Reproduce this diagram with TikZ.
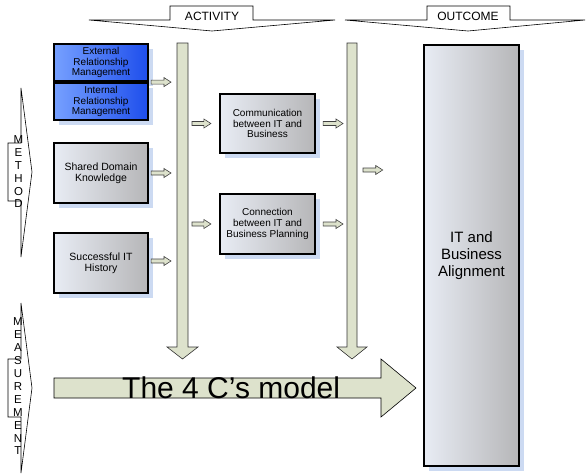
\documentclass[tikz,border=0pt]{standalone}
\usepackage{fontspec}
\setmainfont{Liberation Sans}
\usepackage{tikz}
\usetikzlibrary{positioning,shadows,calc}

\definecolor{barfill}{RGB}{221,226,204}
\definecolor{shadowblue}{RGB}{204,218,242}
\definecolor{boxlight}{RGB}{232,236,244}
\definecolor{boxdark}{RGB}{182,182,184}
\definecolor{bluelight}{RGB}{118,160,255}
\definecolor{bluedark}{RGB}{30,78,236}

% small hollow arrow between two points
\newcommand{\blockarrow}[2]{%
  \path #1 coordinate (ba-s) #2 coordinate (ba-e);
  \draw[smallarrow] let \p1=(ba-s), \p2=(ba-e) in
    (\x1,\y1-2pt) -- (\x2-7pt,\y1-2pt) -- (\x2-7pt,\y1-4.5pt) -- (\x2,\y1)
    -- (\x2-7pt,\y1+4.5pt) -- (\x2-7pt,\y1+2pt) -- (\x1,\y1+2pt) -- cycle;
}

\begin{document}
\begin{tikzpicture}[x=1pt,y=-1pt,
  box/.style={draw, line width=2.2pt, align=center, minimum width=94pt, minimum height=60pt,
    left color=boxlight, right color=boxdark,
    drop shadow={shadow xshift=5pt, shadow yshift=-5pt, fill=shadowblue, opacity=1},
    font=\fontsize{10.5}{11}\selectfont},
  bluebox/.style={box, minimum height=35pt, left color=bluelight, right color=bluedark,
    font=\fontsize{10}{10.5}\selectfont},
  bar/.style={draw=black!80, line width=0.6pt, fill=barfill},
  smallarrow/.style={draw=black!75, line width=0.6pt, fill=barfill},
  banner/.style={draw, line width=0.6pt, fill=white},
  vletter/.style={inner sep=0pt, font=\fontsize{11.5}{11.5}\selectfont}]
\useasboundingbox (0,0) rectangle (586,474);

% banners on top
\draw[banner] (89,20) -- (170,20) -- (170,6) -- (253,6) -- (253,20) -- (335,20) -- (212,31) -- cycle;
\node[font=\fontsize{12}{12}\selectfont] (activity) at (212,16) {ACTIVITY};
\draw[banner] (345,20) -- (427,20) -- (427,6) -- (510,6) -- (510,20) -- (585,20) -- (468,31) -- cycle;
\node[font=\fontsize{12}{12}\selectfont] (outcome) at (468,16) {OUTCOME};

% banners on the left
\draw[banner] (21,88) -- (21,143) -- (8,143) -- (8,201) -- (21,201) -- (21,257) -- (32,172) -- cycle;
\foreach \l [count=\i from 0] in {M,E,T,H,O,D}
  \node[vletter] (meth\i) at (18.5,140+12.8*\i) {\l};
\draw[banner] (21,303) -- (21,359) -- (8,359) -- (8,417) -- (21,417) -- (21,473) -- (32,388) -- cycle;
\foreach \l [count=\i from 0] in {M,E,A,S,U,R,E,M,E,N,T}
  \node[vletter] (meas\i) at (18,322+12.9*\i) {\l};

% activity bar
\draw[bar] (177,43) -- (188,43) -- (188,347) -- (198,347) -- (182.5,359) -- (167,347) -- (177,347) -- cycle;
\coordinate (barA) at (177,0);
\coordinate (barAr) at (188,0);

% outcome bar
\draw[bar] (347,43) -- (357,43) -- (357,347) -- (367,347) -- (352,359) -- (337,347) -- (347,347) -- cycle;
\coordinate (barB) at (347,0);
\coordinate (barBr) at (357,0);

% the 4 C's arrow
\draw[bar, draw=black] (54,378) -- (381,378) -- (381,359) -- (416,388) -- (381,417) -- (381,398) -- (54,398) -- cycle;
\node[anchor=base west, inner sep=0pt, font=\fontsize{30}{30}\selectfont] (model) at (122,398) {The 4 C’s model};

% method boxes
\node[bluebox] (ext) at (101,62.5) {External\\Relationship\\Management};
\node[bluebox, below=0pt of ext] (int) {Internal\\Relationship\\Management};
\node[box] (shared) at (101,173) {Shared Domain\\Knowledge};
\node[box] (success) at (101,263) {Successful IT\\History};

% activity boxes
\node[box, minimum width=95pt, minimum height=59pt, font=\fontsize{10}{10.7}\selectfont] (comm) at (267.5,123.5) {Communication\\between IT and\\Business};
\node[box, minimum width=95pt, font=\fontsize{10}{10.7}\selectfont] (conn) at (267.5,224) {Connection\\between IT and\\Business Planning};

% outcome box
\node[box, minimum width=95pt, minimum height=421pt, line width=2.6pt,
  font=\fontsize{15}{17}\selectfont] (align) at (471.5,255.5) {IT and\\Business\\Alignment};

% small arrows
\blockarrow{($(ext.south east)+(2,0)$)}{($(ext.south east -| barA)+(-6,0)$)}
\blockarrow{($(shared.east)+(2,0)$)}{($(shared.east -| barA)+(-6,0)$)}
\blockarrow{($(success.east)+(2,-2)$)}{($(success.east -| barA)+(-6,-2)$)}
\blockarrow{($(comm.west -| barAr)+(4,0)$)}{($(comm.west)+(-8,0)$)}
\blockarrow{($(conn.west -| barAr)+(4,0)$)}{($(conn.west)+(-8,0)$)}
\blockarrow{($(comm.east)+(7,0)$)}{($(comm.east -| barB)+(-4,0)$)}
\blockarrow{($(conn.east)+(7,0)$)}{($(conn.east -| barB)+(-4,0)$)}
\blockarrow{($(barBr |- align.west)+(6,-85.5)$)}{($(align.west)+(-40,-85.5)$)}
\end{tikzpicture}
\end{document}
